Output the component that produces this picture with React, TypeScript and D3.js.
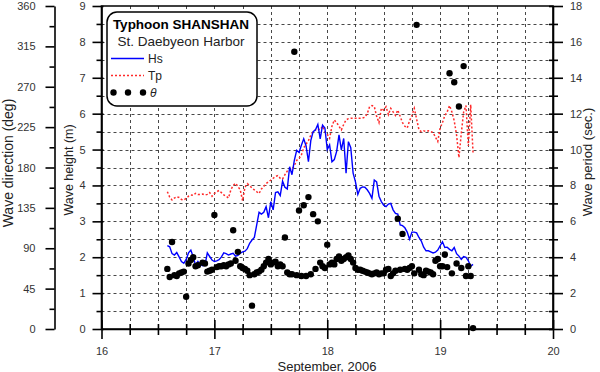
import { useEffect, useRef } from "react";
import * as d3 from "d3";

// records start 16 Sep 14:00, every 30 minutes
const startDay = 16 + 14 / 24;
const stepDay = 1 / 48;

// significant wave height (m)
const hs = [
  2.32, 2.29, 2.10, 2.06, 2.13, 2.01, 1.88, 1.83, 1.94, 2.12,
  2.20, 2.01, 1.78, 1.88, 1.80, 1.76, 1.78, 2.12, 2.02, 1.92,
  1.88, 1.90, 1.93, 2.01, 2.12, 2.10, 2.06, 2.09, 2.11, 2.03,
  2.05, 2.11, 2.15, 2.17, 2.24, 2.39, 2.48, 2.55, 2.90, 3.25,
  3.20, 3.25, 3.41, 3.10, 3.55, 3.32, 3.80, 3.82, 3.72, 4.12,
  3.95, 3.90, 4.52, 4.30, 4.70, 4.98, 4.92, 5.12, 5.30, 5.10,
  4.66, 5.25, 5.50, 5.55, 5.70, 5.30, 5.68, 5.60, 5.00, 5.13,
  4.66, 4.72, 4.95, 5.41, 4.99, 5.31, 4.34, 5.22, 5.05, 4.34,
  4.10, 3.75, 3.92, 3.96, 3.95, 3.88, 3.78, 3.64, 4.15, 4.10,
  3.70, 3.55, 3.45, 3.41, 3.48, 3.50, 3.32, 3.22, 3.20, 2.90,
  2.88, 2.82, 2.70, 2.50, 2.70, 2.70, 2.68, 2.55, 2.45, 2.28,
  2.18, 2.18, 2.15, 2.12, 2.14, 2.20, 2.32, 2.43, 2.27, 2.28,
  2.22, 2.18, 2.27, 2.10, 2.03, 1.94, 2.02, 2.00, 1.90, 1.75,
  1.80,
];

// peak period (sec)
const tp = [
  7.65, 7.35, 7.19, 7.30, 7.37, 7.33, 7.22, 7.19, 7.28, 7.40,
  7.47, 7.45, 7.56, 7.50, 7.50, 7.52, 7.47, 7.50, 7.60, 7.40,
  7.55, 7.65, 7.72, 7.60, 7.47, 7.40, 7.30, 7.75, 8.00, 8.12,
  7.95, 7.75, 7.15, 7.90, 8.10, 8.00, 7.85, 7.75, 7.65, 7.55,
  7.80, 7.95, 8.10, 8.20, 8.30, 8.40, 8.50, 8.55, 8.40, 8.35,
  8.60, 8.80, 8.90, 8.90, 9.10, 9.40, 9.50, 9.70, 10.10, 10.30,
  10.50, 10.80, 11.00, 11.09, 11.15, 11.10, 11.30, 11.00, 10.85, 10.63,
  11.30, 11.65, 11.50, 11.30, 11.09, 11.40, 11.65, 11.72, 11.74, 11.74,
  11.74, 11.74, 11.74, 11.76, 11.80, 12.00, 12.39, 12.45, 12.40, 11.85,
  11.50, 12.30, 12.20, 12.39, 11.95, 12.30, 12.10, 11.90, 12.20, 11.85,
  11.50, 11.30, 11.20, 11.60, 11.90, 12.30, 11.70, 11.10, 11.00, 11.05,
  11.00, 11.05, 11.00, 10.95, 10.70, 10.45, 11.20, 11.50, 11.90, 12.10,
  12.45, 12.10, 11.60, 10.80, 9.55, 10.90, 12.10, 12.45, 10.20, 12.50,
  9.80,
];

// wave direction (deg)
const theta = [
  67, 58, 97, 60, 59, 62, 63, 64, 36, 73,
  77, 80, 70, 71, 272, 74, 73, 64, 65, 66,
  127, 69, 70, 70, 71, 70, 72, 73, 110, 76,
  86, 70, 68, 67, 65, 60, 26, 61, 63, 64,
  66, 70, 74, 78, 72, 74, 75, 70, 72, 70,
  102, 63, 61, 61, 309, 60, 132, 59, 138, 59,
  147, 61, 128, 67, 120, 74, 70, 68, 94, 72,
  74, 72, 78, 81, 76, 78, 80, 82, 78, 74,
  68, 66, 66, 65, 64, 63, 62, 61, 62, 63,
  61, 62, 62, 66, 67, 59, 62, 65, 123, 66,
  106, 67, 66, 68, 70, 62, 339, 66, 61, 60,
  65, 64, 63, 61, 76, 78, 70, 70, 83, 69,
  285, 62, 275, 73, 248, 68, 293, 59, 70, 59,
  1,
];

const dayTicks = [16, 17, 18, 19, 20];
const dayMinor = [16.25, 16.5, 16.75, 17.25, 17.5, 17.75, 18.25, 18.5, 18.75, 19.25, 19.5, 19.75];
const heightTicks = [0, 1, 2, 3, 4, 5, 6, 7, 8, 9];
const heightMinor = [0.5, 1.5, 2.5, 3.5, 4.5, 5.5, 6.5, 7.5, 8.5];
const dirTicks = [0, 45, 90, 135, 180, 225, 270, 315, 360];
const dirMinor = [22.5, 67.5, 112.5, 157.5, 202.5, 247.5, 292.5, 337.5];
const periodTicks = [0, 2, 4, 6, 8, 10, 12, 14, 16, 18];
const periodMinor = [1, 3, 5, 7, 9, 11, 13, 15, 17];

const font = "'Liberation Sans', Arial, sans-serif";

function WaveChart() {
  const ref = useRef<SVGSVGElement>(null);

  useEffect(() => {
    const svg = d3.select(ref.current);
    svg.selectAll("*").remove();

    const left = 101.5, right = 553, top = 6, bottom = 329;
    const dirAxisX = 54.5;

    const x = d3.scaleLinear([16, 20], [left, right]);
    const yH = d3.scaleLinear([0, 9], [bottom, top]);
    const yT = d3.scaleLinear([0, 18], [bottom, top]);
    const yD = d3.scaleLinear([0, 360], [bottom, top]);
    const tAt = (i: number) => startDay + i * stepDay;

    // grid
    const grid = svg.append("g").attr("stroke", "#333").attr("stroke-width", 0.9).attr("stroke-dasharray", "3,3");
    grid.selectAll("line.h")
      .data(heightTicks.concat(heightMinor).filter(v => v > 0 && v < 9))
      .join("line")
      .attr("x1", left).attr("x2", right)
      .attr("y1", d => Math.round(yH(d)) + 0.5).attr("y2", d => Math.round(yH(d)) + 0.5);
    grid.selectAll("line.v")
      .data(dayTicks.concat(dayMinor).filter(v => v > 16 && v < 20))
      .join("line")
      .attr("y1", top).attr("y2", bottom)
      .attr("x1", d => Math.round(x(d)) + 0.5).attr("x2", d => Math.round(x(d)) + 0.5);

    // Tp
    svg.append("path")
      .datum(tp)
      .attr("fill", "none")
      .attr("stroke", "#ff2a2a")
      .attr("stroke-width", 1.5)
      .attr("stroke-dasharray", "2,2")
      .attr("d", d3.line<number>().x((d, i) => x(tAt(i))).y(d => yT(d)));

    // Hs
    svg.append("path")
      .datum(hs)
      .attr("fill", "none")
      .attr("stroke", "#0000ff")
      .attr("stroke-width", 1.4)
      .attr("d", d3.line<number>().x((d, i) => x(tAt(i))).y(d => yH(d)));

    // theta
    svg.append("g")
      .selectAll("circle")
      .data(theta)
      .join("circle")
      .attr("cx", (d, i) => x(tAt(i)))
      .attr("cy", d => yD(d))
      .attr("r", 3.2)
      .attr("fill", "#000");

    // legend
    const lg = svg.append("g").attr("font-family", font);
    lg.append("rect")
      .attr("x", 107).attr("y", 12).attr("width", 150).attr("height", 94)
      .attr("rx", 10).attr("fill", "#fff").attr("stroke", "#000").attr("stroke-width", 1.5);
    lg.append("text").attr("x", 181).attr("y", 29).attr("text-anchor", "middle")
      .attr("font-size", 13.5).attr("font-weight", "bold").text("Typhoon SHANSHAN");
    lg.append("text").attr("x", 181).attr("y", 46).attr("text-anchor", "middle")
      .attr("font-size", 13.5).attr("fill", "#222").text("St. Daebyeon Harbor");
    lg.append("line").attr("x1", 111).attr("x2", 144).attr("y1", 58.5).attr("y2", 58.5)
      .attr("stroke", "#0000ff").attr("stroke-width", 1.5);
    lg.append("text").attr("x", 148).attr("y", 62.5).attr("font-size", 12).attr("fill", "#222").text("Hs");
    lg.append("line").attr("x1", 111).attr("x2", 144).attr("y1", 75.5).attr("y2", 75.5)
      .attr("stroke", "#ff2a2a").attr("stroke-width", 1.5).attr("stroke-dasharray", "2,2");
    lg.append("text").attr("x", 148).attr("y", 79.5).attr("font-size", 12).attr("fill", "#222").text("Tp");
    lg.selectAll("circle").data([113.5, 128, 143]).join("circle")
      .attr("cx", d => d).attr("cy", 92.5).attr("r", 3.2).attr("fill", "#000");
    lg.append("text").attr("x", 150).attr("y", 97).attr("font-size", 12).attr("font-style", "italic")
      .attr("fill", "#222").text("θ");

    // frame
    svg.append("path")
      .attr("d", `M${left},${top}H${right}V${bottom}H${left}Z`)
      .attr("fill", "none").attr("stroke", "#000").attr("stroke-width", 1.6);

    const styleAxis = (g: d3.Selection<SVGGElement, unknown, null, undefined>) => {
      g.attr("font-family", font).attr("font-size", 11);
      g.selectAll("line").attr("stroke", "#000").attr("stroke-width", 1.6);
      g.selectAll("path.domain").attr("stroke", "#000").attr("stroke-width", 1.6);
      g.selectAll("text").attr("fill", "#333");
    };

    // wave height axis (left)
    const gH = svg.append("g").attr("transform", `translate(${left},0)`);
    gH.call(d3.axisLeft(yH).tickValues(heightTicks).tickSize(9).tickSizeOuter(0).tickPadding(7).tickFormat(d3.format("d")));
    gH.selectAll(".tick line").attr("x1", 2);
    gH.append("g").call(d3.axisLeft(yH).tickValues(heightMinor).tickSize(5).tickFormat(() => ""))
      .call(g => g.select(".domain").remove());
    styleAxis(gH);

    // wave direction axis (far left)
    const gD = svg.append("g").attr("transform", `translate(${dirAxisX},0)`);
    gD.call(d3.axisLeft(yD).tickValues(dirTicks).tickSize(9).tickSizeOuter(0).tickPadding(10).tickFormat(d3.format("d")));
    gD.append("g").call(d3.axisLeft(yD).tickValues(dirMinor).tickSize(5).tickFormat(() => ""))
      .call(g => g.select(".domain").remove());
    styleAxis(gD);

    // wave period axis (right)
    const gT = svg.append("g").attr("transform", `translate(${right},0)`);
    gT.call(d3.axisRight(yT).tickValues(periodTicks).tickSize(10).tickSizeOuter(0).tickPadding(7).tickFormat(d3.format("d")));
    gT.selectAll(".tick line").attr("x1", -4);
    gT.append("g").call(d3.axisRight(yT).tickValues(periodMinor).tickSize(5).tickFormat(() => ""))
      .call(g => g.select(".domain").remove());
    gT.selectAll("g g .tick line").attr("x1", -4);
    styleAxis(gT);

    // time axis (bottom)
    const gX = svg.append("g").attr("transform", `translate(0,${bottom})`);
    gX.call(d3.axisBottom(x).tickValues(dayTicks).tickSize(10).tickSizeOuter(0).tickPadding(8).tickFormat(d3.format("d")));
    gX.selectAll(".tick line").attr("y1", -9);
    gX.append("g").call(d3.axisBottom(x).tickValues(dayMinor).tickSize(6).tickFormat(() => ""))
      .call(g => g.select(".domain").remove());
    gX.selectAll("g g .tick line").attr("y1", -5);
    styleAxis(gX);

    // axis titles
    const titles = svg.append("g").attr("font-family", font).attr("fill", "#222").attr("text-anchor", "middle");
    titles.append("text").attr("transform", "translate(13,163) rotate(-90)")
      .attr("font-size", 14).text("Wave direction (deg)");
    titles.append("text").attr("transform", "translate(73,170) rotate(-90)")
      .attr("font-size", 12.5).text("Wave height (m)");
    titles.append("text").attr("transform", "translate(592,162) rotate(-90)")
      .attr("font-size", 13).text("Wave period (sec.)");
    titles.append("text").attr("x", 327).attr("y", 370.5)
      .attr("font-size", 13).text("September, 2006");
  }, []);

  return (
    <svg
      ref={ref}
      width={600}
      height={372}
      style={{ position: "absolute", left: 0, top: 0, background: "#fff" }}
    />
  );
}

export default function App() {
  return <WaveChart />;
}
